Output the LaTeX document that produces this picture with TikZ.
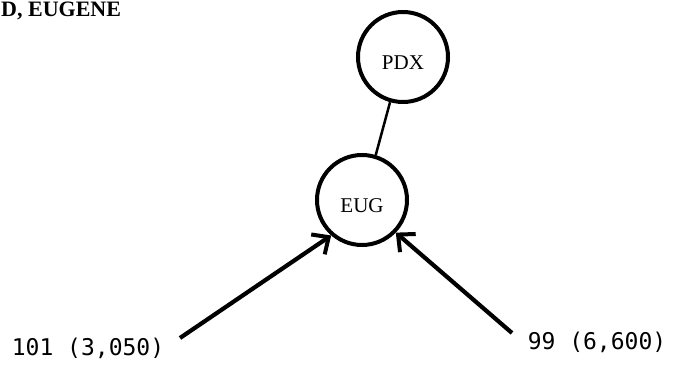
\documentclass[tikz,border=0pt]{standalone}
\usepackage{fontspec}
\setmainfont{Liberation Serif}
\newfontfamily\labfont{DejaVu Sans Mono}
\newfontfamily\titfont{Liberation Serif}
\usetikzlibrary{arrows.meta,calc}
\begin{document}
\begin{tikzpicture}[x=1pt,y=-1pt,
  city/.style={circle,draw,line width=4pt,minimum size=90pt,inner sep=0pt},
  citytext/.style={font=\fontsize{21}{21}\selectfont},
  flow/.style={line width=4.2pt,-{Straight Barb[length=13pt,width=24pt,line width=4pt]}},
  link/.style={line width=2.5pt},
  lab/.style={font=\labfont\fontsize{23}{23}\selectfont,inner sep=0pt}]
\useasboundingbox (0,0) rectangle (673,366);
\node[city,label={[citytext,yshift=-6pt]center:PDX}] (pdx) at (403,57) {};
\node[city,label={[citytext,yshift=-6pt]center:EUG}] (eug) at (362,200) {};
\draw[link] (pdx.254) -- (eug.73);
\node[lab] (l1) at (88,348) {101 (3,050)};
\node[lab] (l2) at (597,342) {99 (6,600)};
\coordinate (s1) at (180,338);
\coordinate (s2) at (512,333);
\draw[flow] (s1) -- (eug.229);
\draw[flow] (s2) -- (eug.316);
\node[font=\titfont\bfseries\fontsize{22}{22}\selectfont,anchor=north west,inner sep=0pt] (title) at (1,1.5) {D, EUGENE};
\end{tikzpicture}
\end{document}
